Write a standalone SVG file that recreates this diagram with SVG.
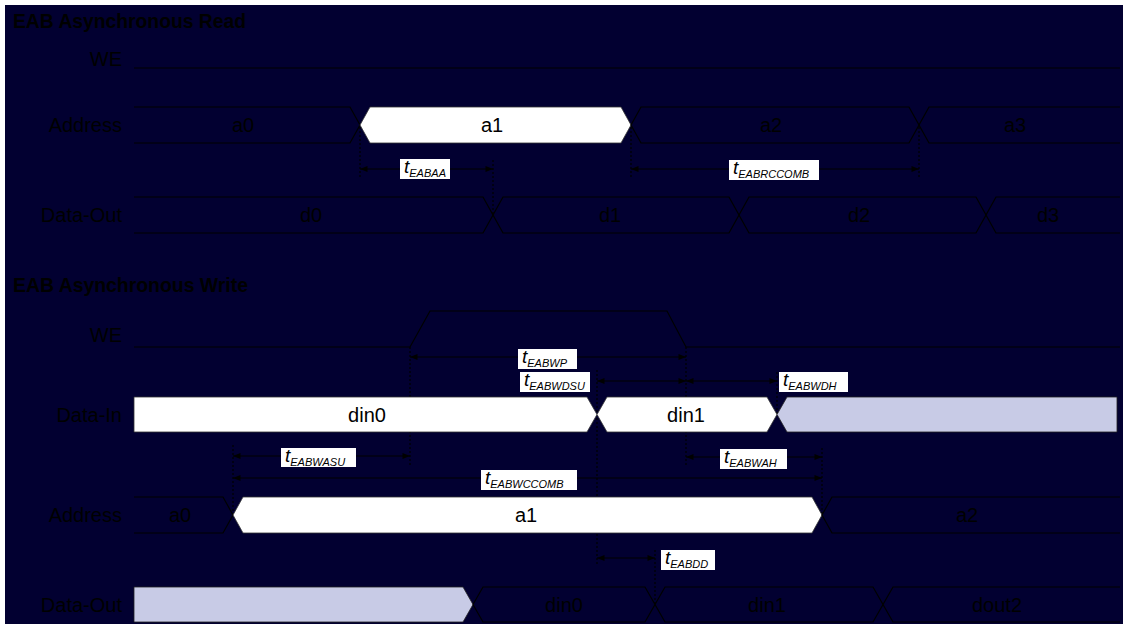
<svg xmlns="http://www.w3.org/2000/svg" width="1127" height="624" viewBox="0 0 1127 624">
<defs>
<marker id="ah" viewBox="0 0 10 8" refX="10" refY="4" markerWidth="9" markerHeight="6" markerUnits="userSpaceOnUse" orient="auto-start-reverse"><path d="M0,0 L10,4 L0,8 z" fill="#000"/></marker>
<style>
.bus{fill:none;stroke:#000;stroke-width:1.2}
.wht{fill:#fff;stroke:#333;stroke-width:0.8}
.gry{fill:#c8cbe6;stroke:#222;stroke-width:0.8}
.dash{stroke:#000;stroke-width:1.2;stroke-dasharray:2,2;fill:none}
.arr{stroke:#000;stroke-width:1;fill:none;marker-start:url(#ah);marker-end:url(#ah)}
.lbl{font-family:"Liberation Sans",Arial,sans-serif;font-size:20px;fill:#000}
.sl{text-anchor:end}
.val{text-anchor:middle}
.ttl{font-family:"Liberation Sans",Arial,sans-serif;font-size:21px;font-weight:bold;fill:#000}
.box{fill:#fff}
.tl{font-family:"Liberation Sans",Arial,sans-serif;font-size:19px;font-style:italic;fill:#000}
.sub{font-size:11px}
</style>
</defs>
<rect x="0" y="0" width="1127" height="624" fill="#fff"/>
<rect x="5" y="5" width="1118" height="619" fill="#020031"/>

<g id="guides">
<path class="dash" d="M360,127 V178 M493,160 V215 M631,127 V178 M919,127 V178"/>
<path class="dash" d="M410,347 V465 M686,347 V466 M597,370 V566 M777,372 V414 M233,445 V515 M822,448 V515 M655,550 V605"/>
</g>

<g id="read-title"><text class="ttl" x="13" y="28" textLength="233" lengthAdjust="spacingAndGlyphs">EAB Asynchronous Read</text></g>

<g id="read-we">
<text class="lbl sl" x="122" y="66">WE</text>
<path class="bus" d="M134,68 H1120"/>
</g>

<g id="read-address">
<text class="lbl sl" x="122" y="132">Address</text>
<path class="bus" d="M134,107 H350 L360,125 L350,143 H134"/>
<polygon class="wht" points="360,125 370,107 621,107 631,125 621,143 370,143"/>
<path class="bus" d="M631,125 L641,107 H909 L919,125 L909,143 H641 Z"/>
<path class="bus" d="M1120,107 H929 L919,125 L929,143 H1120"/>
<text class="lbl val" x="243" y="132">a0</text>
<text class="lbl val" x="492" y="132">a1</text>
<text class="lbl val" x="771" y="132">a2</text>
<text class="lbl val" x="1015" y="132">a3</text>
</g>

<g id="read-dataout">
<text class="lbl sl" x="122" y="222">Data-Out</text>
<path class="bus" d="M134,197 H483 L493,215 L483,233 H134"/>
<path class="bus" d="M493,215 L503,197 H729 L739,215 L729,233 H503 Z"/>
<path class="bus" d="M739,215 L749,197 H976 L986,215 L976,233 H749 Z"/>
<path class="bus" d="M1120,197 H996 L986,215 L996,233 H1120"/>
<text class="lbl val" x="311" y="222">d0</text>
<text class="lbl val" x="610" y="222">d1</text>
<text class="lbl val" x="859" y="222">d2</text>
<text class="lbl val" x="1048" y="222">d3</text>
</g>

<g id="write-title"><text class="ttl" x="13" y="292" textLength="235" lengthAdjust="spacingAndGlyphs">EAB Asynchronous Write</text></g>

<g id="write-we">
<text class="lbl sl" x="122" y="342">WE</text>
<path class="bus" d="M134,347 H410 L430,311 H667 L686,347 H1120"/>
</g>

<g id="write-datain">
<text class="lbl sl" x="122" y="422">Data-In</text>
<polygon class="wht" points="134,397 587,397 597,414.5 587,432 134,432"/>
<polygon class="wht" points="597,414.5 607,397 767,397 777,414.5 767,432 607,432"/>
<polygon class="gry" points="777,414.5 787,397 1117,397 1117,432 787,432"/>
<text class="lbl val" x="367" y="422">din0</text>
<text class="lbl val" x="686" y="422">din1</text>
</g>

<g id="write-address">
<text class="lbl sl" x="122" y="522">Address</text>
<path class="bus" d="M134,497 H223 L233,515 L223,533 H134"/>
<polygon class="wht" points="233,515 243,497 812,497 822,515 812,533 243,533"/>
<path class="bus" d="M1120,497 H832 L822,515 L832,533 H1120"/>
<text class="lbl val" x="180" y="522">a0</text>
<text class="lbl val" x="526" y="522">a1</text>
<text class="lbl val" x="967" y="522">a2</text>
</g>

<g id="write-dataout">
<text class="lbl sl" x="122" y="612">Data-Out</text>
<polygon class="gry" points="134,587 463,587 473,604.5 463,622 134,622"/>
<path class="bus" d="M473,604.5 L483,587 H645 L655,604.5 L645,622 H483 Z"/>
<path class="bus" d="M655,604.5 L665,587 H873 L883,604.5 L873,622 H665 Z"/>
<path class="bus" d="M1120,587 H893 L883,604.5 L893,622 H1120"/>
<text class="lbl val" x="564" y="612">din0</text>
<text class="lbl val" x="767" y="612">din1</text>
<text class="lbl val" x="997" y="612">dout2</text>
</g>

<g id="connectors">
<line class="arr" x1="360" y1="169" x2="493" y2="169"/>
<line class="arr" x1="631" y1="169" x2="919" y2="169"/>
<line class="arr" x1="410" y1="357" x2="686" y2="357"/>
<line class="arr" x1="597" y1="381" x2="686" y2="381"/>
<line class="arr" x1="686" y1="381" x2="777" y2="381"/>
<line class="arr" x1="233" y1="456" x2="410" y2="456"/>
<line class="arr" x1="233" y1="478" x2="822" y2="478"/>
<line class="arr" x1="686" y1="457" x2="822" y2="457"/>
<line class="arr" x1="597" y1="558" x2="655" y2="558"/>
</g>

<g id="timing-labels">
<rect class="box" x="400" y="159" width="50" height="20"/>
<text class="tl" x="404" y="173">t<tspan class="sub" dy="4">EABAA</tspan></text>
<rect class="box" x="729" y="160" width="90" height="20"/>
<text class="tl" x="733" y="174">t<tspan class="sub" dy="4">EABRCCOMB</tspan></text>
<rect class="box" x="518" y="349" width="59" height="20"/>
<text class="tl" x="522" y="363">t<tspan class="sub" dy="4">EABWP</tspan></text>
<rect class="box" x="520" y="372" width="70" height="20"/>
<text class="tl" x="524" y="386">t<tspan class="sub" dy="4">EABWDSU</tspan></text>
<rect class="box" x="779" y="372" width="69" height="20"/>
<text class="tl" x="783" y="386">t<tspan class="sub" dy="4">EABWDH</tspan></text>
<rect class="box" x="281" y="448" width="75" height="19"/>
<text class="tl" x="285" y="462">t<tspan class="sub" dy="4">EABWASU</tspan></text>
<rect class="box" x="481" y="470" width="96" height="20"/>
<text class="tl" x="485" y="484">t<tspan class="sub" dy="4">EABWCCOMB</tspan></text>
<rect class="box" x="720" y="449" width="67" height="20"/>
<text class="tl" x="724" y="463">t<tspan class="sub" dy="4">EABWAH</tspan></text>
<rect class="box" x="661" y="550" width="54" height="20"/>
<text class="tl" x="665" y="564">t<tspan class="sub" dy="4">EABDD</tspan></text>
</g>
</svg>
